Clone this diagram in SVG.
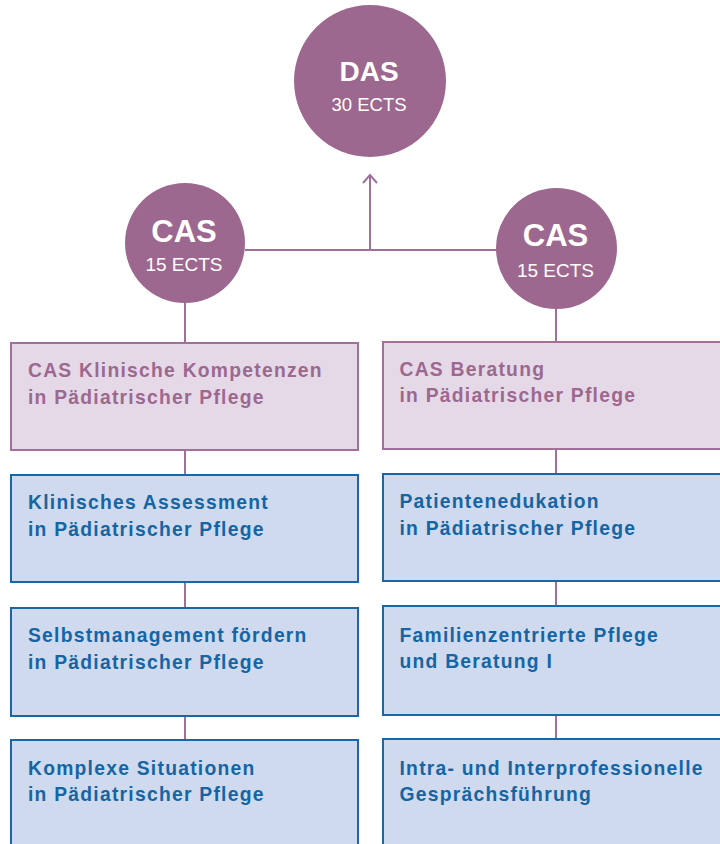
<svg xmlns="http://www.w3.org/2000/svg" width="720" height="844" viewBox="0 0 720 844">
<defs>
<style>
.circ{fill:#9d6890}
.ct{font-family:"Liberation Sans",Arial,sans-serif;fill:#fff;text-anchor:middle}
.big{font-weight:bold}
.pink{fill:#e5d9e7;stroke:#a0709b;stroke-width:2}
.blue{fill:#cfdaee;stroke:#1a67a7;stroke-width:2}
.t{font-family:"Liberation Sans",Arial,sans-serif;font-weight:bold;font-size:19.3px;letter-spacing:1.25px}
.tp{fill:#9d6890}
.tb{fill:#1565a5}
.con{stroke:#a0709b;stroke-width:2;fill:none}
</style>
</defs>
<rect width="720" height="844" fill="#fff"/>
<g id="connectors">
<line class="con" x1="245" y1="250" x2="497" y2="250"/>
<line class="con" x1="370" y1="250" x2="370" y2="175"/>
<polyline class="con" points="363,183 370,175 377,183"/>
<line class="con" x1="185" y1="303" x2="185" y2="343"/>
<line class="con" x1="556" y1="308" x2="556" y2="343"/>
<line class="con" x1="185" y1="450" x2="185" y2="475"/>
<line class="con" x1="185" y1="582" x2="185" y2="608"/>
<line class="con" x1="185" y1="716" x2="185" y2="740"/>
<line class="con" x1="556" y1="449" x2="556" y2="474"/>
<line class="con" x1="556" y1="581" x2="556" y2="606"/>
<line class="con" x1="556" y1="715" x2="556" y2="739"/>
</g>
<g id="das">
<circle class="circ" cx="370" cy="81" r="76"/>
<text class="ct big" x="369" y="81" font-size="28">DAS</text>
<text class="ct" x="369" y="110.5" font-size="18.5">30 ECTS</text>
</g>
<g id="cas-left">
<circle class="circ" cx="185" cy="243" r="60"/>
<text class="ct big" x="184" y="242" font-size="31">CAS</text>
<text class="ct" x="184" y="271" font-size="19">15 ECTS</text>
</g>
<g id="cas-right">
<circle class="circ" cx="556.5" cy="248.5" r="60.5"/>
<text class="ct big" x="555.5" y="246" font-size="31">CAS</text>
<text class="ct" x="555.5" y="276.5" font-size="19">15 ECTS</text>
</g>
<g id="box-cas-klinisch">
<rect class="pink" x="11" y="343" width="347" height="107"/>
<text class="t tp" x="28" y="377">CAS Klinische Kompetenzen</text>
<text class="t tp" x="28" y="404">in Pädiatrischer Pflege</text>
</g>
<g id="box-cas-beratung">
<rect class="pink" x="383" y="342" width="345" height="107"/>
<text class="t tp" x="399.5" y="375.5">CAS Beratung</text>
<text class="t tp" x="399.5" y="402">in Pädiatrischer Pflege</text>
</g>
<g id="box-assessment">
<rect class="blue" x="11" y="475" width="347" height="107"/>
<text class="t tb" x="28" y="509">Klinisches Assessment</text>
<text class="t tb" x="28" y="535.5">in Pädiatrischer Pflege</text>
</g>
<g id="box-selbstmanagement">
<rect class="blue" x="11" y="608" width="347" height="108"/>
<text class="t tb" x="28" y="642">Selbstmanagement fördern</text>
<text class="t tb" x="28" y="669">in Pädiatrischer Pflege</text>
</g>
<g id="box-komplexe">
<rect class="blue" x="11" y="740" width="347" height="120"/>
<text class="t tb" x="28" y="774.5">Komplexe Situationen</text>
<text class="t tb" x="28" y="801">in Pädiatrischer Pflege</text>
</g>
<g id="box-patientenedukation">
<rect class="blue" x="383" y="474" width="345" height="107"/>
<text class="t tb" x="399.5" y="508">Patientenedukation</text>
<text class="t tb" x="399.5" y="534.5">in Pädiatrischer Pflege</text>
</g>
<g id="box-familien">
<rect class="blue" x="383" y="606" width="345" height="109"/>
<text class="t tb" x="399.5" y="641.5">Familienzentrierte Pflege</text>
<text class="t tb" x="399.5" y="668">und Beratung I</text>
</g>
<g id="box-intra">
<rect class="blue" x="383" y="739" width="345" height="120"/>
<text class="t tb" x="399.5" y="774.5">Intra- und Interprofessionelle</text>
<text class="t tb" x="399.5" y="801">Gesprächsführung</text>
</g>
</svg>
